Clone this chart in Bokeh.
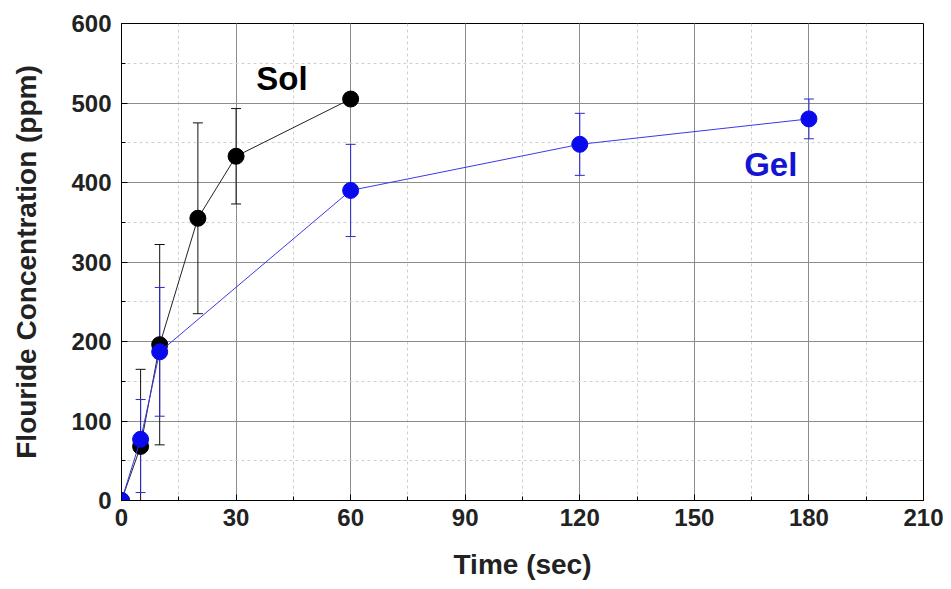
from bokeh.plotting import figure
from bokeh.models import ColumnDataSource, Whisker, TeeHead, FixedTicker, Range1d, Label
from bokeh.embed import file_html
from bokeh.resources import INLINE

# Data
sol_time = [0, 5, 10, 20, 30, 60]
sol_conc = [0, 68, 196, 355, 433, 505]
sol_err = [0, 97, 126, 120, 60, 0]

gel_time = [0, 5, 10, 60, 120, 180]
gel_conc = [0, 77, 187, 390, 448, 480]
gel_err_low = [0, 67, 81, 58, 39, 25]
gel_err_high = [0, 50, 81, 58, 39, 25]

x_ticks = [0, 30, 60, 90, 120, 150, 180, 210]
y_ticks = [0, 100, 200, 300, 400, 500, 600]

FONT = "Liberation Sans"
BLUE = "#0a0aee"

p = figure(width=951, height=589, output_backend="svg", toolbar_location=None,
           x_range=Range1d(0, 210), y_range=Range1d(0, 600),
           min_border_left=121, min_border_right=28, min_border_top=23, min_border_bottom=89)

p.background_fill_color = "white"
p.border_fill_color = "white"
p.outline_line_color = "black"
p.outline_line_width = 1

# axes
p.xaxis.ticker = FixedTicker(ticks=x_ticks, minor_ticks=list(range(0, 211, 15)))
p.yaxis.ticker = FixedTicker(ticks=y_ticks, minor_ticks=list(range(0, 601, 50)))
for ax in (p.xaxis[0], p.yaxis[0]):
    ax.axis_line_color = "black"
    ax.major_tick_in = 6
    ax.major_tick_out = 0
    ax.minor_tick_in = 4
    ax.minor_tick_out = 0
    ax.major_tick_line_color = "black"
    ax.minor_tick_line_color = "black"
    ax.major_label_text_font = FONT
    ax.major_label_text_font_style = "bold"
    ax.major_label_text_font_size = "24px"
    ax.major_label_text_color = "#222222"
    ax.axis_label_text_font = FONT
    ax.axis_label_text_font_style = "bold"
    ax.axis_label_text_font_size = "28px"
    ax.axis_label_text_color = "#222222"
p.xaxis.axis_label = "Time (sec)"
p.yaxis.axis_label = "Flouride Concentration (ppm)"
p.xaxis.major_label_standoff = 8
p.yaxis.major_label_standoff = 10
p.xaxis.axis_label_standoff = 20
p.yaxis.axis_label_standoff = 26

# grid
for g in (p.xgrid[0], p.ygrid[0]):
    g.grid_line_color = "#8c8c8c"
    g.grid_line_width = 1
    g.minor_grid_line_color = "#d0d0d0"
    g.minor_grid_line_dash = "3 3"
    g.minor_grid_line_width = 1

# Sol series
sol_src = ColumnDataSource(dict(x=sol_time, y=sol_conc,
                                lo=[c - e for c, e in zip(sol_conc, sol_err)],
                                hi=[c + e for c, e in zip(sol_conc, sol_err)]))
p.add_layout(Whisker(source=sol_src, base="x", lower="lo", upper="hi",
                     line_color="#111111", line_width=1,
                     upper_head=TeeHead(size=10, line_color="#111111", line_width=1),
                     lower_head=TeeHead(size=10, line_color="#111111", line_width=1)))
p.line("x", "y", source=sol_src, line_color="#222222", line_width=1)
p.scatter("x", "y", source=sol_src, size=16, fill_color="black", line_color="black")

# Gel series
gel_src = ColumnDataSource(dict(x=gel_time, y=gel_conc,
                                lo=[c - e for c, e in zip(gel_conc, gel_err_low)],
                                hi=[c + e for c, e in zip(gel_conc, gel_err_high)]))
p.add_layout(Whisker(source=gel_src, base="x", lower="lo", upper="hi",
                     line_color="#2a2ad0", line_width=1,
                     upper_head=TeeHead(size=10, line_color="#2a2ad0", line_width=1),
                     lower_head=TeeHead(size=10, line_color="#2a2ad0", line_width=1)))
p.line("x", "y", source=gel_src, line_color="#3a3ae8", line_width=1)
p.scatter("x", "y", source=gel_src, size=16, fill_color=BLUE, line_color=BLUE)

# series labels
p.add_layout(Label(x=42, y=531, text="Sol", text_font=FONT, text_font_style="bold",
                   text_font_size="33px", text_color="black",
                   text_align="center", text_baseline="middle"))
p.add_layout(Label(x=170, y=423, text="Gel", text_font=FONT, text_font_style="bold",
                   text_font_size="33px", text_color="#1414d2",
                   text_align="center", text_baseline="middle"))

open("out.html", "w").write(file_html(p, INLINE))
